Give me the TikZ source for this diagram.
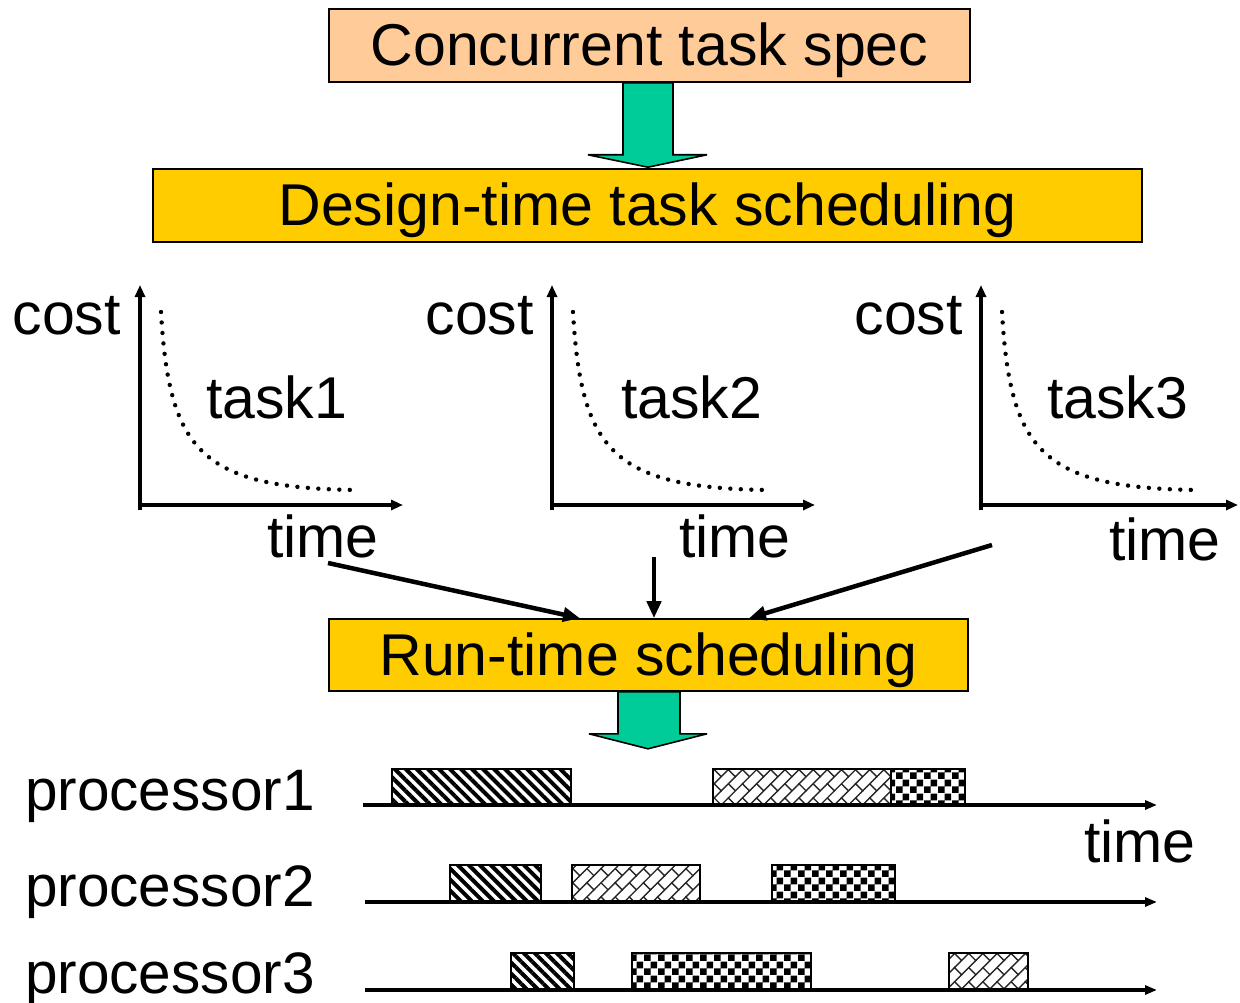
\documentclass[tikz,border=0pt]{standalone}
\usepackage{fontspec}
\setmainfont{Liberation Sans}
\usetikzlibrary{arrows.meta,calc,patterns.meta}

\definecolor{specfill}{HTML}{FFCC99}
\definecolor{stagefill}{HTML}{FFCC00}
\definecolor{flowfill}{HTML}{00CC99}

% small black-and-white checkerboard
\pgfdeclarepattern{
  name=checker,
  bottom left={\pgfpoint{0pt}{0pt}},
  top right={\pgfpoint{14pt}{14pt}},
  tile size={\pgfpoint{14pt}{14pt}},
  code={
    \pgfpathrectangle{\pgfpoint{0pt}{0pt}}{\pgfpoint{7pt}{7pt}}
    \pgfpathrectangle{\pgfpoint{7pt}{7pt}}{\pgfpoint{7pt}{7pt}}
    \pgfusepath{fill}
  }
}

% diagonal brick
\pgfdeclarepattern{
  name=dbrick,
  bottom left={\pgfpoint{-1pt}{-1pt}},
  top right={\pgfpoint{21pt}{21pt}},
  tile size={\pgfpoint{20pt}{20pt}},
  tile transformation={\pgftransformrotate{45}},
  code={
    \pgfsetlinewidth{1.4pt}
    \pgfpathmoveto{\pgfpoint{-1pt}{0pt}}\pgfpathlineto{\pgfpoint{21pt}{0pt}}
    \pgfpathmoveto{\pgfpoint{-1pt}{10pt}}\pgfpathlineto{\pgfpoint{21pt}{10pt}}
    \pgfpathmoveto{\pgfpoint{0pt}{0pt}}\pgfpathlineto{\pgfpoint{0pt}{10pt}}
    \pgfpathmoveto{\pgfpoint{10pt}{10pt}}\pgfpathlineto{\pgfpoint{10pt}{20pt}}
    \pgfusepath{stroke}
  }
}

\begin{document}
\begin{tikzpicture}[x=1pt,y=-1pt,
  lbl/.style={inner sep=0pt, font=\fontsize{59}{70}\selectfont},
  proclbl/.style={inner sep=0pt, font=\fontsize{58.5}{70}\selectfont},
  stagebox/.style={draw, line width=1.6pt, inner sep=0pt, minimum height=73pt,
    text height=41pt, text depth=0pt, font=\fontsize{59}{70}\selectfont},
  fatarrow/.style={draw, fill=flowfill, line width=1.6pt, line join=miter, miter limit=4},
  axis/.style={line width=3.8pt, -{Triangle[length=12pt,width=10pt]}},
  curve/.style={line width=4.4pt, line cap=round, dash pattern=on 0pt off 10.5pt},
  feed/.style={line width=4.5pt, -{Triangle[length=17pt,width=14pt]}},
  tline/.style={line width=4pt, -{Triangle[length=12pt,width=9pt]}},
  blk/.style={draw, line width=2.4pt},
  stripes/.style={blk, pattern={Lines[angle=-45,distance=7.8pt,line width=4pt]}},
  bricks/.style={blk, pattern=dbrick, pattern color=black!85},
  checks/.style={blk, pattern=checker}
]
\useasboundingbox (0,0) rectangle (1240,1003);

% the three stages
\node[stagebox, fill=specfill, minimum width=641pt] (spec) at (649.5,45.5) {Concurrent task spec};
\node[stagebox, fill=stagefill, minimum width=989pt] (design) at (647.5,205.5) {Design-time task scheduling};
\node[stagebox, fill=stagefill, minimum width=639pt, minimum height=72pt] (run) at (648.5,655) {Run-time scheduling};

% block arrows between stages
\draw[fatarrow] ($(spec.south)+(-26.5,0)$) -- ++(0,72) -- ++(-35,0)
  -- ($(design.north)+(0.5,-1)$) -- ($(spec.south)+(57.5,72)$) -- ++(-34,0) -- ++(0,-72) -- cycle;
\coordinate (gantt) at ($(run.south)+(-0.5,57)$);
\draw[fatarrow] ($(run.south)+(-30.5,0)$) -- ++(0,42) -- ++(-29,0)
  -- (gantt) -- ($(run.south)+(58.5,42)$) -- ++(-27,0) -- ++(0,-42) -- cycle;

% cost/time curves of the three tasks
\foreach \i/\ox/\len in {1/140/263, 2/552/263, 3/981/257} {
  \coordinate (o\i) at (\ox,505);
  \draw[axis] ($(o\i)+(0,5)$) -- ++(0,-225);
  \draw[axis] (o\i) -- ++(\len,0);
  \draw[curve] ($(o\i)+(21,-193)$) .. controls ($(o\i)+(29,-55)$) and ($(o\i)+(60,-17)$) .. ($(o\i)+(216,-15)$);
}
\node[lbl, anchor=base east] (cost1) at (121,334) {cost};
\node[lbl, anchor=base west] (task1) at (206,418) {task1};
\node[lbl, anchor=base west] (time1) at (267,557) {time};
\node[lbl, anchor=base east] (cost2) at (534,334) {cost};
\node[lbl, anchor=base west] (task2) at (621,418) {task2};
\node[lbl, anchor=base west] (time2) at (679,557) {time};
\node[lbl, anchor=base east] (cost3) at (963,334) {cost};
\node[lbl, anchor=base west] (task3) at (1047,418) {task3};
\node[lbl, anchor=base west] (time3) at (1109,560) {time};

% curves feed the run-time scheduler
\coordinate (f1) at (328,563);
\coordinate (f2) at (654,557);
\coordinate (f3) at (992,545);
\draw[feed] (f1) -- ($(run.north)+(-68.5,0)$);
\draw[feed] (f2) -- ($(run.north)+(5.5,0)$);
\draw[feed] (f3) -- ($(run.north)+(100.5,0)$);

% per-processor schedules
\node[proclbl, anchor=base west] (proc1) at (25,810) {processor1};
\node[proclbl, anchor=base west] (proc2) at (25,906) {processor2};
\node[proclbl, anchor=base west] (proc3) at (25,993) {processor3};
\node[lbl, anchor=base west] (timeaxis) at (1084,862) {time};

\draw[stripes] (392,769) rectangle (571,805);
\draw[bricks] (713,769) rectangle (891,805);
\draw[checks] (891,769) rectangle (965,805);

\draw[stripes] (450,865) rectangle (541,902);
\draw[bricks] (572,865) rectangle (700,902);
\draw[checks] (772,865) rectangle (895,902);

\draw[stripes] (511,953) rectangle (574,990);
\draw[checks] (632,953) rectangle (811,990);
\draw[bricks] (949,953) rectangle (1028,990);

\coordinate (p1s) at (363,805); \coordinate (p1e) at (1157,805);
\coordinate (p2s) at (365,902); \coordinate (p2e) at (1157,902);
\coordinate (p3s) at (365,990); \coordinate (p3e) at (1157,990);
\draw[tline] (p1s) -- (p1e);
\draw[tline] (p2s) -- (p2e);
\draw[tline] (p3s) -- (p3e);
\end{tikzpicture}
\end{document}
